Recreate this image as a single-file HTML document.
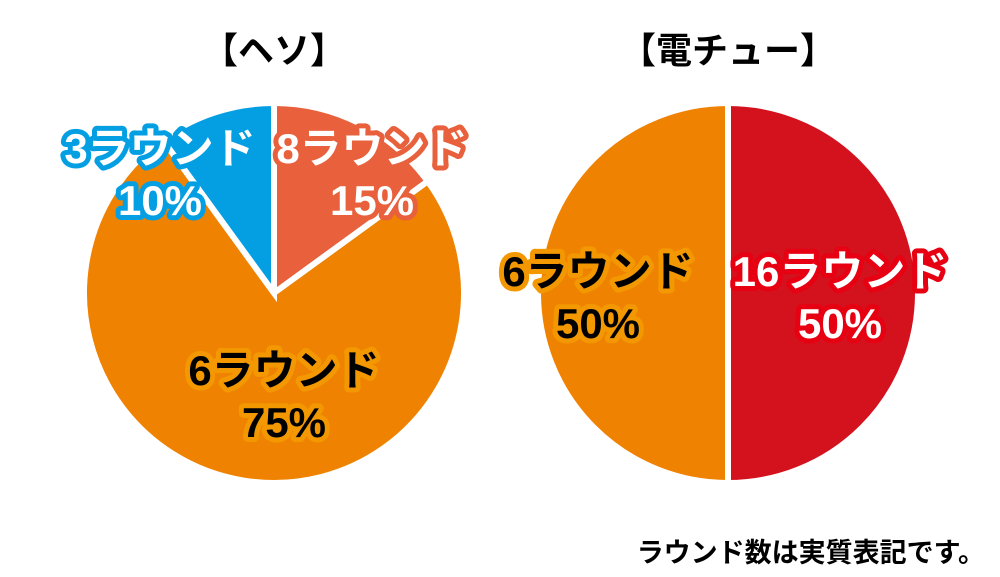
<!DOCTYPE html>
<html><head><meta charset="utf-8"><style>
html,body{margin:0;padding:0;background:#fff;}
svg{display:block;}
text{font-family:"Liberation Sans","Noto Sans CJK JP",sans-serif;font-weight:bold;}
.lbl{paint-order:stroke;stroke-linejoin:round;}
</style></head><body>
<svg id="chart" width="1000" height="577" viewBox="0 0 1000 577">
<text x="274" y="63" font-size="36" text-anchor="middle" fill="#000">【ヘソ】</text>
<text x="728" y="63" font-size="36" text-anchor="middle" fill="#000">【電チュー】</text>
<g id="g1"></g>
<g id="g2"></g>
<text x="985" y="562" font-size="27" text-anchor="end" fill="#000">ラウンド数は実質表記です。</text>
</svg>
<script>
const hesoCategories=["8ラウンド","6ラウンド","3ラウンド"];
const hesoValues=[15,75,10];
const denchuCategories=["16ラウンド","6ラウンド"];
const denchuValues=[50,50];
const hesoColors=["#e8603c","#ef8200","#049fe3"];
const denchuColors=["#d3121e","#ef8200"];
const NS="http://www.w3.org/2000/svg";
function drawPie(g,cats,vals,colors,cx,cy,r,labelStyles,labelPos){
  const total=vals.reduce((a,b)=>a+b,0);
  let a0=-Math.PI/2;
  vals.forEach((v,i)=>{
    const a1=a0+v/total*Math.PI*2;
    const x0=cx+r*Math.cos(a0),y0=cy+r*Math.sin(a0),x1=cx+r*Math.cos(a1),y1=cy+r*Math.sin(a1);
    const large=(a1-a0)>Math.PI?1:0;
    const p=document.createElementNS(NS,"path");
    p.setAttribute("d",`M${cx},${cy} L${x0},${y0} A${r},${r} 0 ${large} 1 ${x1},${y1} Z`);
    p.setAttribute("fill",colors[i]);
    p.setAttribute("stroke","#fff");
    p.setAttribute("stroke-width","6");
    
    
    g.appendChild(p);
    a0=a1;
  });
  vals.forEach((v,i)=>{
    const st=labelStyles[i];const pos=labelPos[i];
    const lines=[cats[i],Math.round(v/total*100)+"%"];
    lines.forEach((s,k)=>{
      const t=document.createElementNS(NS,"text");
      t.setAttribute("x",pos[0]);t.setAttribute("y",pos[1]+k*52);
      t.setAttribute("font-size","42");t.setAttribute("text-anchor","middle");
      t.setAttribute("fill",st[0]);t.setAttribute("stroke",st[1]);t.setAttribute("stroke-width","10");
      t.setAttribute("class","lbl");
      t.textContent=s;
      
      
      g.appendChild(t);
    });
  });
}
drawPie(document.getElementById("g1"),hesoCategories,hesoValues,hesoColors,274,293,190,
  [["#fff","#e8603c"],["#000","#f39800"],["#fff","#049fe3"]],
  [[372,163],[284,385],[160,163]]);
drawPie(document.getElementById("g2"),denchuCategories,denchuValues,denchuColors,728,293,190,
  [["#fff","#e60012"],["#000","#f39800"]],
  [[840,286],[598,286]]);
</script>
</body></html>
